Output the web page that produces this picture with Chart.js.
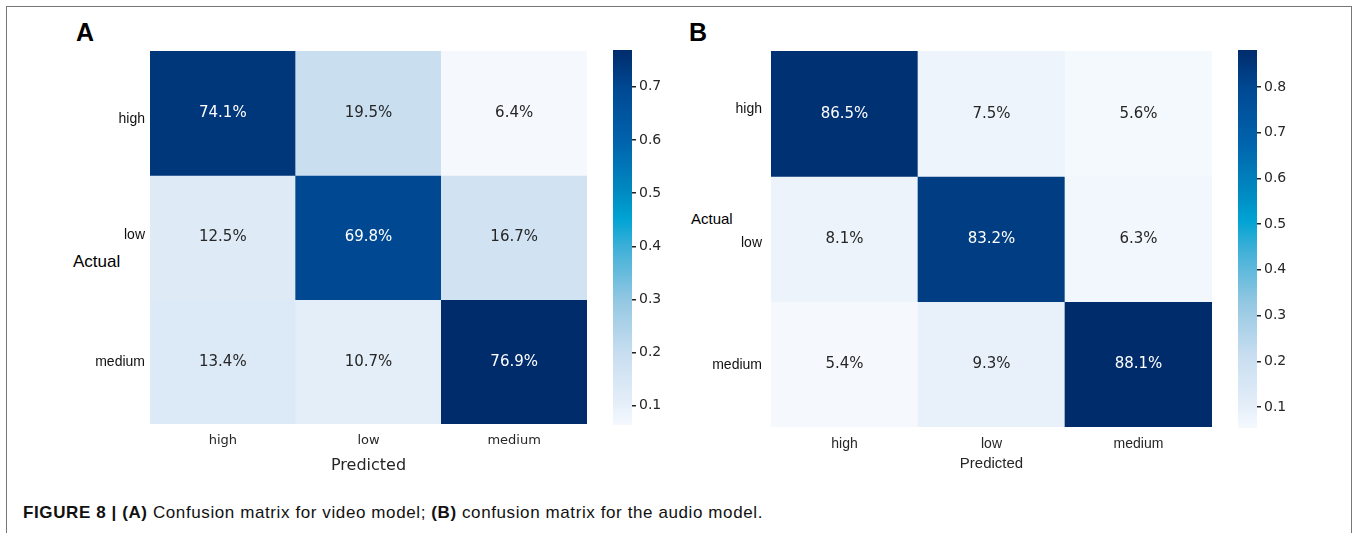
<!DOCTYPE html>
<html>
<head>
<meta charset="utf-8">
<script src="https://cdn.jsdelivr.net/npm/chart.js@4.4.1/dist/chart.umd.min.js"></script>
<style>
    body { margin: 0; width: 1356px; height: 533px; background: #fff; position: relative; overflow: hidden; font-family: "Liberation Sans", Arial, sans-serif; }
    .frame { position: absolute; left: 6px; top: 6px; width: 1346px; height: 600px; border: 1px solid #777; box-sizing: border-box; }
    canvas, .txt { position: absolute; }
    .letter { font-weight: bold; font-size: 25px; color: #000; }
    .actual { color: #000; }
    .caption { left: 23px; top: 503px; font-size: 17px; letter-spacing: 0.6px; color: #111; white-space: nowrap; }
</style>
</head>
<body>
<div class="frame"></div>

<div class="txt letter" style="left:76px; top:18px;">A</div>
<div class="txt letter" style="left:689px; top:18px;">B</div>
<div class="txt actual" style="left:73px; top:252px; font-size:17px;">Actual</div>
<div class="txt actual" style="left:691px; top:210px; font-size:15px;">Actual</div>

<canvas id="heatA" width="560" height="450" style="left:40px; top:40px;"></canvas>
<canvas id="barA" width="80" height="400" style="left:600px; top:40px;"></canvas>
<canvas id="heatB" width="560" height="450" style="left:660px; top:40px;"></canvas>
<canvas id="barB" width="90" height="400" style="left:1225px; top:40px;"></canvas>

<div class="txt caption"><b>FIGURE 8 | (A)</b> Confusion matrix for video model; <b>(B)</b> confusion matrix for the audio model.</div>

<script>
// classes on both axes
const actualLabels = ['high', 'low', 'medium'];
const predictedLabels = ['high', 'low', 'medium'];

// row = actual, column = predicted (fractions)
const videoHigh = [0.741, 0.195, 0.064];
const videoLow = [0.125, 0.698, 0.167];
const videoMedium = [0.134, 0.107, 0.769];

const audioHigh = [0.865, 0.075, 0.056];
const audioLow = [0.081, 0.832, 0.063];
const audioMedium = [0.054, 0.093, 0.881];

// colorbar ticks
const videoTicks = [0.1, 0.2, 0.3, 0.4, 0.5, 0.6, 0.7];
const audioTicks = [0.1, 0.2, 0.3, 0.4, 0.5, 0.6, 0.7, 0.8];

// colormap as it appears in the figure (position 0..1, colour)
const cmap = [
    [0, '#f5f9fe'], [0.06, '#e4eef9'], [0.19, '#c8def0'], [0.33, '#94c8e2'],
    [0.47, '#40b0d8'], [0.55, '#00a3d3'], [0.62, '#008bc2'], [0.76, '#0062ab'],
    [0.9, '#004892'], [1, '#002c6c']
];

function hexToRgb(h) {
    return [parseInt(h.slice(1, 3), 16), parseInt(h.slice(3, 5), 16), parseInt(h.slice(5, 7), 16)];
}

function colorAt(t) {
    t = Math.max(0, Math.min(1, t));
    for (let i = 1; i < cmap.length; i++) {
        if (t <= cmap[i][0]) {
            const [p0, c0] = cmap[i - 1], [p1, c1] = cmap[i];
            const f = (t - p0) / (p1 - p0);
            const a = hexToRgb(c0), b = hexToRgb(c1);
            const rgb = a.map((v, k) => Math.round(v + (b[k] - v) * f));
            return `rgb(${rgb.join(',')})`;
        }
    }
    return cmap[cmap.length - 1][1];
}

const cellLabels = {
    id: 'cellLabels',
    afterDatasetsDraw(chart, args, opts) {
        const ctx = chart.ctx;
        ctx.save();
        ctx.font = '15px "DejaVu Sans"';
        ctx.textAlign = 'center';
        ctx.textBaseline = 'middle';
        chart.data.datasets.forEach((ds, i) => {
            chart.getDatasetMeta(i).data.forEach((bar, j) => {
                const v = opts.matrix[i][j];
                const p = bar.getCenterPoint();
                ctx.fillStyle = (v - opts.vmin) / (opts.vmax - opts.vmin) > 0.5 ? '#ffffff' : '#262626';
                ctx.fillText((v * 100).toFixed(1) + '%', p.x, p.y);
            });
        });
        ctx.restore();
    }
};

function heatmap(id, matrix, cfg) {
    const all = matrix.flat();
    const vmin = Math.min(...all), vmax = Math.max(...all);
    const datasets = matrix.map((row, r) => ({
        data: row.map(() => [r, r + 1]),
        backgroundColor: row.map(v => colorAt((v - vmin) / (vmax - vmin))),
        borderWidth: 0,
        grouped: false,
        barPercentage: 1,
        categoryPercentage: 1
    }));

    new Chart(document.getElementById(id), {
        type: 'bar',
        data: { labels: predictedLabels, datasets: datasets },
        plugins: [cellLabels],
        options: {
            responsive: false,
            animation: false,
            layout: { padding: { top: 11, right: cfg.padRight, left: 0, bottom: 0 } },
            plugins: {
                legend: { display: false },
                tooltip: { enabled: false },
                cellLabels: { matrix: matrix, vmin: vmin, vmax: vmax }
            },
            scales: {
                x: {
                    type: 'category',
                    grid: { display: false, drawTicks: false },
                    border: { display: false },
                    ticks: { color: '#262626', font: cfg.xFont, padding: cfg.xPad, maxRotation: 0 },
                    title: { display: true, text: 'Predicted', color: '#262626', font: cfg.titleFont, padding: { top: 0, bottom: cfg.titlePad } },
                    afterFit: s => { s.height = cfg.xHeight; s.paddingLeft = 0; s.paddingRight = 0; }
                },
                y: {
                    type: 'linear',
                    min: 0,
                    max: 3,
                    reverse: true,
                    grid: { display: false, drawTicks: false },
                    border: { display: false },
                    // row labels sit a little off the row centres in the figure
                    afterBuildTicks: s => { s.ticks = cfg.yTickPos.map(p => ({ value: p })); },
                    ticks: { color: '#111', font: { family: 'Liberation Sans', size: 14 }, padding: cfg.yPad, callback: (v, i) => actualLabels[i] },
                    afterFit: s => { s.width = cfg.yWidth; s.paddingTop = 0; s.paddingBottom = 0; }
                }
            }
        }
    });
    return { vmin, vmax };
}

function colorbar(id, range, ticks, cfg) {
    new Chart(document.getElementById(id), {
        type: 'bar',
        data: {
            labels: [''],
            datasets: [{
                data: [[range.vmin, range.vmax]],
                backgroundColor: c => {
                    const area = c.chart.chartArea;
                    if (!area) return null;
                    const g = c.chart.ctx.createLinearGradient(0, area.bottom, 0, area.top);
                    cmap.forEach(([p, col]) => g.addColorStop(p, col));
                    return g;
                },
                borderWidth: 0,
                barPercentage: 1,
                categoryPercentage: 1
            }]
        },
        options: {
            responsive: false,
            animation: false,
            layout: { padding: { top: 10, left: 13, bottom: cfg.padBottom, right: 0 } },
            plugins: { legend: { display: false }, tooltip: { enabled: false } },
            scales: {
                x: { display: false },
                y: {
                    position: 'right',
                    min: range.vmin,
                    max: range.vmax,
                    grid: { display: true, drawOnChartArea: false, drawTicks: true, tickLength: 4, color: '#222', lineWidth: 1.5 },
                    border: { display: false },
                    afterBuildTicks: s => { s.ticks = ticks.map(v => ({ value: v })); },
                    ticks: { color: '#262626', font: { family: 'DejaVu Sans', size: 14 }, padding: 3, callback: v => v.toFixed(1) },
                    afterFit: s => { s.width = cfg.axisWidth; s.paddingTop = 0; s.paddingBottom = 0; }
                }
            }
        }
    });
}

const rangeA = heatmap('heatA', [videoHigh, videoLow, videoMedium], {
    padRight: 13, yWidth: 110, xHeight: 66, yPad: 5, xPad: 9, titlePad: 15,
    yTickPos: [0.55, 1.48, 2.5],
    xFont: { family: 'DejaVu Sans', size: 13 },
    titleFont: { family: 'DejaVu Sans', size: 16 }
});
colorbar('barA', rangeA, videoTicks, { padBottom: 15, axisWidth: 48 });

const rangeB = heatmap('heatB', [audioHigh, audioLow, audioMedium], {
    padRight: 8, yWidth: 111, xHeight: 63, yPad: 9, xPad: 9, titlePad: 17,
    yTickPos: [0.46, 1.53, 2.51],
    xFont: { family: 'Liberation Sans', size: 14 },
    titleFont: { family: 'Liberation Sans', size: 15 }
});
colorbar('barB', rangeB, audioTicks, { padBottom: 12, axisWidth: 58 });
</script>
</body>
</html>
